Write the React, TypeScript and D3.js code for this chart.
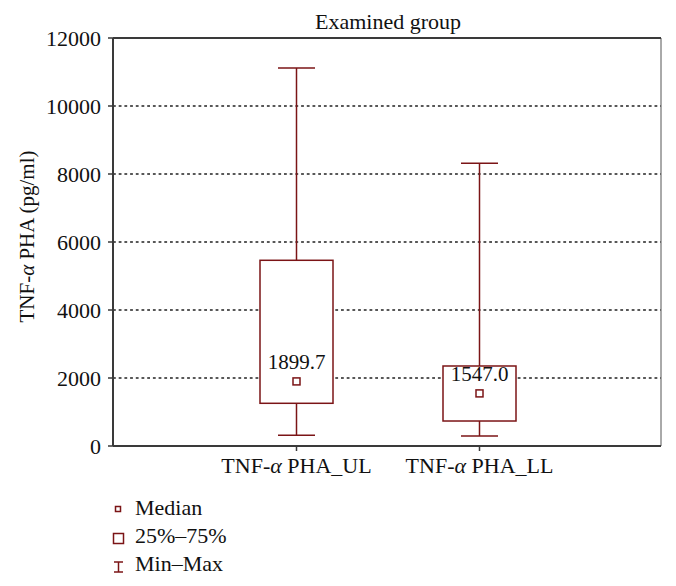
import React from "react";
import * as d3 from "d3";

const categories = ["TNF-α PHA_UL", "TNF-α PHA_LL"];
const minValues = [315, 294];
const q1Values = [1256, 735];
const medianValues = [1899.7, 1547.0];
const q3Values = [5462, 2353];
const maxValues = [11118, 8314];
const medianLabels = ["1899.7", "1547.0"];
const yTicks = [0, 2000, 4000, 6000, 8000, 10000, 12000];
const legendLabels = ["Median", "25%–75%", "Min–Max"];

const W = 676;
const H = 586;
const left = 113;
const right = 661;
const top = 38;
const bottom = 446;
const RED = "#7b1416";
const FONT = "'Liberation Serif', 'DejaVu Serif', serif";

export default function App() {
  const y = d3.scaleLinear().domain([0, 12000]).range([bottom, top]);
  const x = d3.scaleBand<string>().domain(categories).range([205, 571]);
  const boxW = 73;
  const capW = 37;

  return (
    <div style={{ margin: -8 }}>
      <svg width={W} height={H} style={{ display: "block", fontFamily: FONT }}>
        <rect width={W} height={H} fill="#fff" />
        {yTicks
          .filter((t) => t > 0 && t < 12000)
          .map((t) => (
            <line
              key={t}
              x1={left}
              x2={right}
              y1={y(t)}
              y2={y(t)}
              stroke="#222"
              strokeWidth={1.4}
              strokeDasharray="2.8,2.9"
            />
          ))}
        <line x1={right} x2={right} y1={top} y2={bottom} stroke="#555" strokeWidth={1} />
        <line x1={left} x2={right} y1={top} y2={top} stroke="#3a3a3a" strokeWidth={2} />
        <line x1={left} x2={right} y1={bottom} y2={bottom} stroke="#3a3a3a" strokeWidth={2} />
        <line x1={left} x2={left} y1={top} y2={bottom} stroke="#3a3a3a" strokeWidth={2} />
        {yTicks.map((t) => (
          <g key={t}>
            <line x1={left - 5} x2={left} y1={y(t)} y2={y(t)} stroke="#3a3a3a" strokeWidth={1.5} />
            <text x={101} y={y(t)} dy="0.35em" textAnchor="end" fontSize={22} fill="#111">
              {t}
            </text>
          </g>
        ))}
        {categories.map((c, i) => {
          const cx = (x(c) as number) + x.bandwidth() / 2;
          return (
            <g key={c}>
              <line x1={cx} x2={cx} y1={y(maxValues[i])} y2={y(q3Values[i])} stroke={RED} strokeWidth={1.5} />
              <line x1={cx} x2={cx} y1={y(q1Values[i])} y2={y(minValues[i])} stroke={RED} strokeWidth={1.5} />
              <line x1={cx - capW / 2} x2={cx + capW / 2} y1={y(maxValues[i])} y2={y(maxValues[i])} stroke={RED} strokeWidth={1.5} />
              <line x1={cx - capW / 2} x2={cx + capW / 2} y1={y(minValues[i])} y2={y(minValues[i])} stroke={RED} strokeWidth={1.5} />
              <rect
                x={cx - boxW / 2}
                y={y(q3Values[i])}
                width={boxW}
                height={y(q1Values[i]) - y(q3Values[i])}
                fill="#fff"
                stroke={RED}
                strokeWidth={1.5}
              />
              <rect x={cx - 3.5} y={y(medianValues[i]) - 3.5} width={7} height={7} fill="#fff" stroke={RED} strokeWidth={1.5} />
              <text x={cx} y={y(medianValues[i]) - 12} textAnchor="middle" fontSize={21} fill="#111">
                {medianLabels[i]}
              </text>
              <line x1={cx} x2={cx} y1={bottom} y2={bottom + 5} stroke="#3a3a3a" strokeWidth={1.5} />
              <text x={cx} y={bottom + 27} textAnchor="middle" fontSize={22} fill="#111">
                {c.split("α")[0]}
                <tspan fontStyle="italic">α</tspan>
                {c.split("α")[1]}
              </text>
            </g>
          );
        })}
        <text x={388} y={29} textAnchor="middle" fontSize={22} fill="#111">
          Examined group
        </text>
        <text transform={`translate(34,236.5) rotate(-90)`} textAnchor="middle" fontSize={21} fill="#111">
          TNF-<tspan fontStyle="italic">α</tspan> PHA (pg/ml)
        </text>
        <g>
          <rect x={115.5} y={506.5} width={5} height={5} fill="#fff" stroke={RED} strokeWidth={1.5} />
          <rect x={113.5} y={533.5} width={10} height={10} fill="#fff" stroke={RED} strokeWidth={1.5} />
          <line x1={118.5} x2={118.5} y1={562} y2={572} stroke={RED} strokeWidth={1.5} />
          <line x1={114} x2={123} y1={562} y2={562} stroke={RED} strokeWidth={1.5} />
          <line x1={114} x2={123} y1={572} y2={572} stroke={RED} strokeWidth={1.5} />
          {legendLabels.map((l, i) => (
            <text key={l} x={135} y={[515, 543, 571][i]} fontSize={22} fill="#111">
              {l}
            </text>
          ))}
        </g>
      </svg>
    </div>
  );
}
